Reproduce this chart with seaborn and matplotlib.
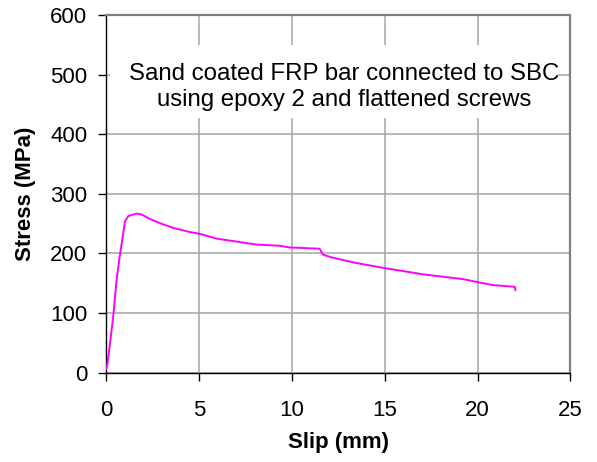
import matplotlib
matplotlib.use("Agg")
import matplotlib.pyplot as plt
from matplotlib.patches import Rectangle
import seaborn as sns
import pandas as pd

# Pull-out test: slip vs. stress
slip_mm = [0.0, 0.07, 0.22, 0.39, 0.57, 0.75, 0.88, 1.02, 1.2, 1.65, 1.92, 2.37, 2.9,
           3.62, 4.52, 5.05, 5.95, 7.03, 8.1, 9.35, 9.9, 10.43, 11.5, 11.68, 12.2,
           13.48, 14.9, 17.06, 19.2, 20.8, 22.0, 22.04]
stress_mpa = [5, 13, 50, 95, 156, 198, 224, 254, 263, 267, 265.5, 258, 251,
              243, 236, 233, 225, 220, 215, 213, 210, 209.5, 208, 198, 193,
              184, 176, 165, 157, 147, 144, 138]

x_ticks = [0, 5, 10, 15, 20, 25]
y_ticks = [0, 100, 200, 300, 400, 500, 600]
note = "Sand coated FRP bar connected to SBC\nusing epoxy 2 and flattened screws"

df = pd.DataFrame({"Slip (mm)": slip_mm, "Stress (MPa)": stress_mpa})

sns.set_style("white")
plt.rcParams["font.family"] = ["Liberation Sans", "DejaVu Sans"]
plt.rcParams["text.color"] = "black"
plt.rcParams["axes.labelcolor"] = "black"
plt.rcParams["xtick.color"] = "black"
plt.rcParams["ytick.color"] = "black"

fig = plt.figure(figsize=(5.97, 4.62), dpi=100)
ax = fig.add_axes([0.1776, 0.1937, 0.9556 - 0.1776, 0.9665 - 0.1937])

sns.lineplot(data=df, x="Slip (mm)", y="Stress (MPa)", ax=ax, color="#ff00ff",
             linewidth=1.4, sort=False, estimator=None, zorder=4)

ax.set_xlim(0, 25)
ax.set_ylim(0, 600)
ax.set_xticks(x_ticks)
ax.set_yticks(y_ticks)
ax.grid(True, color="#a6a6a6", linewidth=1.1)
ax.set_axisbelow(True)

for side in ("left", "bottom"):
    ax.spines[side].set_color("black")
    ax.spines[side].set_linewidth(1.0)
for side in ("top", "right"):
    ax.spines[side].set_color("#808080")
    ax.spines[side].set_linewidth(1.6)

ax.tick_params(axis="both", direction="out", length=6, width=1.0, colors="black",
               labelsize=16, bottom=True, left=True)
ax.tick_params(axis="x", pad=14)
ax.tick_params(axis="y", pad=7.5)
ax.set_xlabel("Slip (mm)", fontsize=16, fontweight="bold", labelpad=8, color="black")
ax.set_ylabel("Stress (MPa)", fontsize=16, fontweight="bold", labelpad=10, color="black")

# white text box behind the annotation
ax.add_patch(Rectangle((0.0086, 0.7129), 0.9645, 0.2045, transform=ax.transAxes,
                       facecolor="white", edgecolor="none", zorder=2))
ax.text(0.512, 0.80, note, transform=ax.transAxes, ha="center", va="center",
        fontsize=17.3, linespacing=1.2, color="black", zorder=3)

fig.savefig("out.png", dpi=100, facecolor="white")
